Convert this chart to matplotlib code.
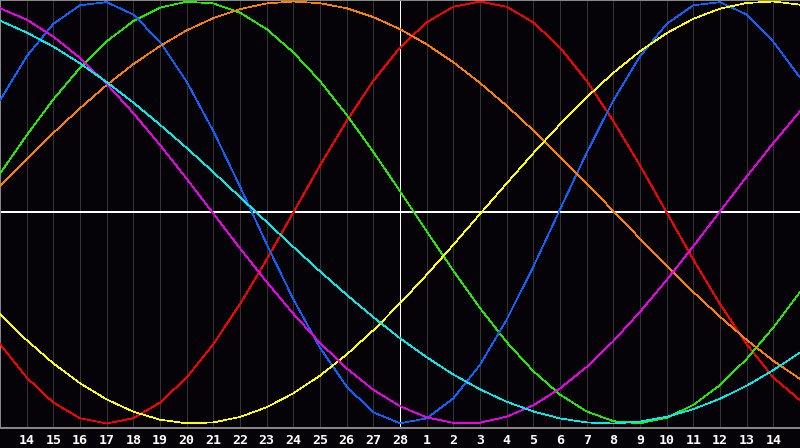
import matplotlib
matplotlib.use("Agg")
import matplotlib.pyplot as plt

# day labels under the chart (one per grid line)
day_labels = [14, 15, 16, 17, 18, 19, 20, 21, 22, 23, 24, 25, 26, 27, 28,
              1, 2, 3, 4, 5, 6, 7, 8, 9, 10, 11, 12, 13, 14]
days = list(range(0, 31))  # sample positions, day label n sits at position n+1

# curve values, one value per day position 0..30
blue = [0.531, 0.740, 0.894, 0.982, 0.997, 0.938, 0.809, 0.620, 0.386, 0.123,
        -0.150, -0.411, -0.641, -0.825, -0.947, -0.999, -0.976, -0.881, -0.722, -0.508,
        -0.257, 0.014, 0.283, 0.531, 0.740, 0.894, 0.982, 0.997, 0.938, 0.809, 0.640]
red = [-0.624, -0.782, -0.901, -0.975, -1.0, -0.975, -0.901, -0.782, -0.624, -0.434,
       -0.223, 0.0, 0.223, 0.434, 0.624, 0.782, 0.901, 0.975, 1.0, 0.975,
       0.901, 0.782, 0.624, 0.434, 0.223, 0.0, -0.223, -0.434, -0.624, -0.782, -0.890]
green = [0.184, 0.366, 0.536, 0.686, 0.811, 0.907, 0.971, 0.999, 0.991, 0.947,
         0.869, 0.759, 0.623, 0.463, 0.287, 0.101, -0.089, -0.276, -0.453, -0.614,
         -0.752, -0.863, -0.943, -0.989, -0.999, -0.973, -0.912, -0.818, -0.694, -0.545, -0.377]
orange = [0.124, 0.253, 0.377, 0.494, 0.604, 0.703, 0.789, 0.863, 0.921, 0.964,
          0.991, 1.0, 0.992, 0.968, 0.926, 0.869, 0.797, 0.712, 0.614, 0.506,
          0.389, 0.265, 0.137, 0.007, -0.124, -0.253, -0.377, -0.494, -0.604, -0.703, -0.789]
yellow = [-0.483, -0.605, -0.715, -0.809, -0.886, -0.944, -0.982, -0.999, -0.995, -0.969,
          -0.923, -0.857, -0.773, -0.673, -0.558, -0.431, -0.295, -0.153, -0.007, 0.138,
          0.281, 0.418, 0.546, 0.662, 0.764, 0.850, 0.918, 0.966, 0.993, 1.0, 0.985]
magenta = [0.968, 0.914, 0.834, 0.732, 0.610, 0.471, 0.320, 0.160, -0.005, -0.170,
           -0.329, -0.480, -0.618, -0.739, -0.840, -0.918, -0.971, -0.997, -0.996, -0.968,
           -0.914, -0.834, -0.732, -0.610, -0.471, -0.320, -0.160, 0.005, 0.170, 0.329, 0.480]
cyan = [0.909, 0.853, 0.786, 0.707, 0.618, 0.521, 0.416, 0.306, 0.191, 0.073,
        -0.045, -0.163, -0.279, -0.390, -0.496, -0.596, -0.686, -0.768, -0.838, -0.897,
        -0.943, -0.976, -0.995, -1.0, -0.991, -0.968, -0.932, -0.883, -0.821, -0.747, -0.664]

bg = "#050308"
px = 0.5  # thin one-pixel lines
fig = plt.figure(figsize=(8, 4.48), dpi=100, facecolor=bg)
ax = fig.add_axes([0, 20 / 448, 1, 428 / 448])
ax.set_facecolor(bg)

# day grid
for d in range(1, 30):
    ax.axvline(d, color="#333333", lw=px, antialiased=False, zorder=1)
ax.axvline(15, color="white", lw=px, antialiased=False, zorder=2)
ax.axhline(0, color="white", lw=1.2, antialiased=False, zorder=2)

curves = [(red, "#ff0000"), (green, "#22ee00"), (blue, "#0a64ff"),
          (orange, "#ff8000"), (yellow, "#ffff00"), (magenta, "#ee00ee"),
          (cyan, "#00eeee")]
for vals, col in curves:
    ax.plot(days, vals, color=col, lw=px, antialiased=False, zorder=3)

ax.set_xlim(0, 30)
ax.set_ylim(-(428 - 212.5) / 211, 212.5 / 211)

for s in ["left", "top", "bottom"]:
    ax.spines[s].set_color("#8a8a8a")
    ax.spines[s].set_linewidth(1.4)
ax.spines["right"].set_visible(False)

ax.set_yticks([])
ax.set_xticks(range(1, 30))
ax.set_xticklabels([str(d) for d in day_labels], color="white",
                   fontfamily="DejaVu Sans Mono", fontweight="bold", fontsize=9.5)
ax.tick_params(axis="x", length=0, pad=4)

fig.savefig("out.png", dpi=100, facecolor=bg)
